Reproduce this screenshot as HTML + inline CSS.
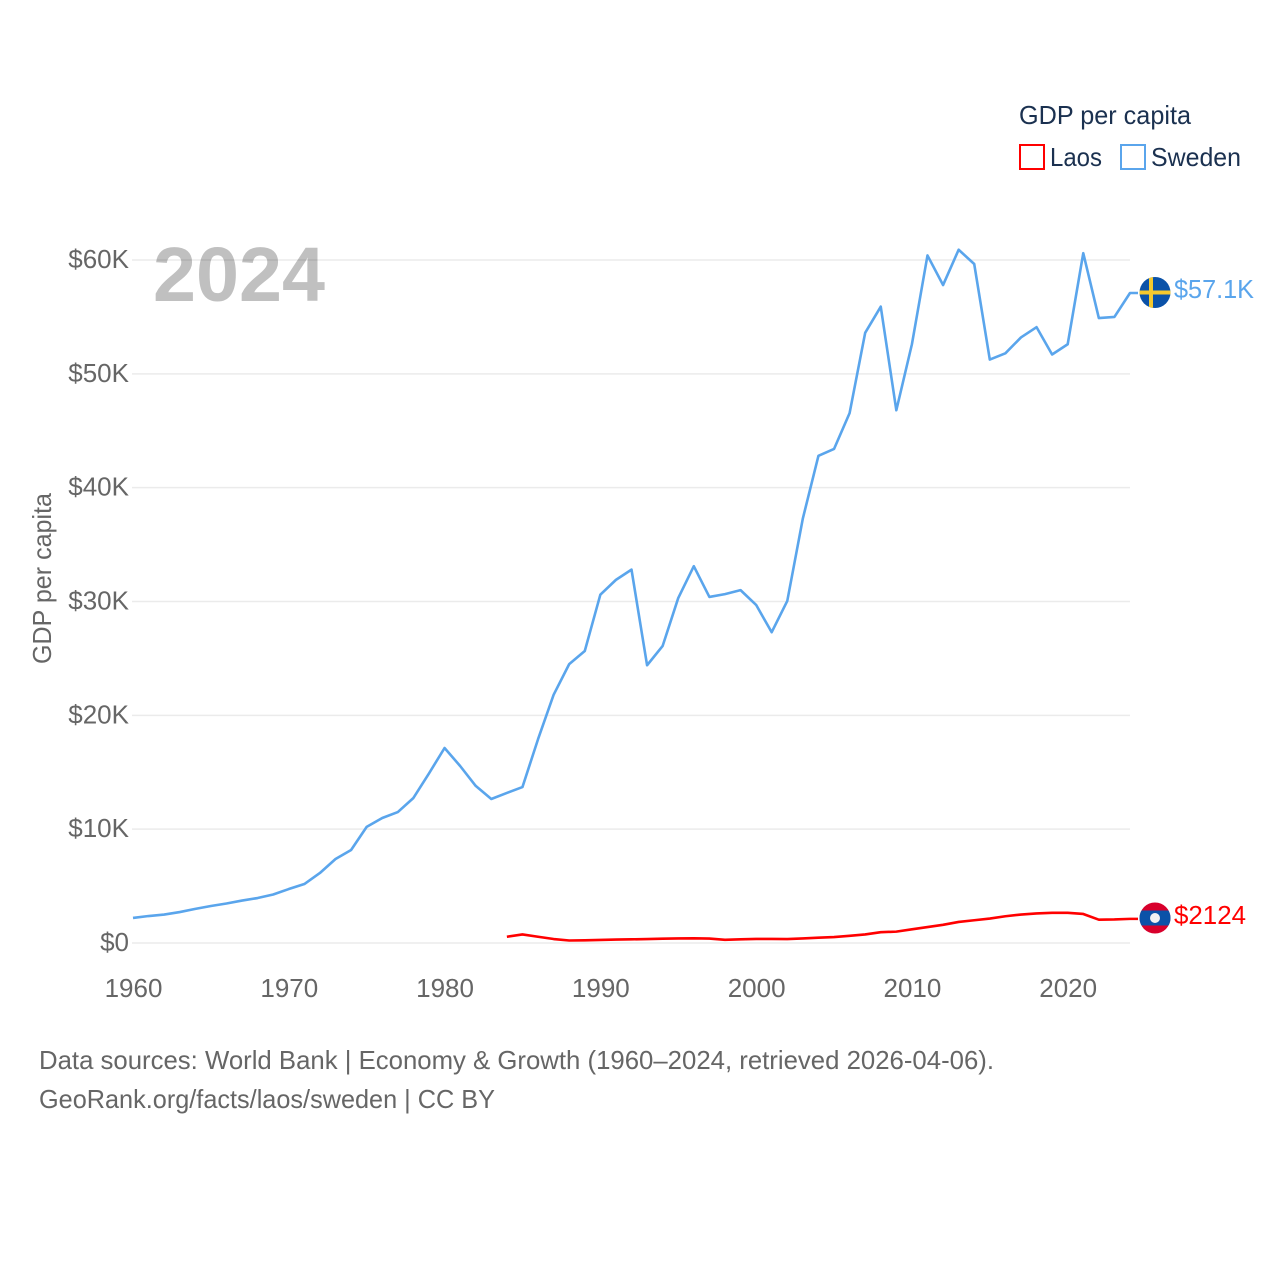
<!DOCTYPE html>
<html lang="en">
<head>
<meta charset="utf-8">
<title>GDP per capita: Laos and Sweden</title>
<style>
html,body{margin:0;padding:0;background:#fff;width:1280px;height:1280px;overflow:hidden}
svg{display:block;font-family:"Liberation Sans",sans-serif}
</style>
</head>
<body>
<svg id="chart" width="1280" height="1280" viewBox="0 0 1280 1280" xmlns="http://www.w3.org/2000/svg">
  <defs>
    <clipPath id="flag-clip-se"><circle cx="1155" cy="292.5" r="15.5"/></clipPath>
    <clipPath id="flag-clip-la"><circle cx="1155" cy="918" r="15.5"/></clipPath>
  </defs>
  <rect x="0" y="0" width="1280" height="1280" fill="#fff"/>

  <text x="153" y="301" font-size="77" font-weight="700" fill="#c0c0c0" textLength="172" lengthAdjust="spacingAndGlyphs">2024</text>

  <g id="grid"></g>
  <g id="y-ticks"></g>
  <g id="x-ticks"></g>

  <text transform="translate(51,664) rotate(-90)" font-size="26" fill="#666" textLength="171" lengthAdjust="spacingAndGlyphs">GDP per capita</text>

  <g id="series"></g>

  <g>
    <text x="1019" y="124" font-size="26" fill="#1b3150" textLength="172" lengthAdjust="spacingAndGlyphs">GDP per capita</text>
    <rect x="1020" y="145" width="24" height="24" fill="#fff" stroke="#ff0000" stroke-width="2"/>
    <text x="1050" y="166" font-size="26" fill="#1b3150" textLength="52" lengthAdjust="spacingAndGlyphs">Laos</text>
    <rect x="1121" y="145" width="24" height="24" fill="#fff" stroke="#5aa5ec" stroke-width="2"/>
    <text x="1151" y="166" font-size="26" fill="#1b3150" textLength="90" lengthAdjust="spacingAndGlyphs">Sweden</text>
  </g>

  <g clip-path="url(#flag-clip-se)">
    <rect x="1139" y="276" width="32" height="33" fill="#0b52a8"/>
    <rect x="1139" y="290.5" width="32" height="4" fill="#f5c92e"/>
    <rect x="1149" y="276" width="4" height="33" fill="#f5c92e"/>
  </g>
  <text x="1174" y="298" font-size="26" fill="#5aa5ec" textLength="80" lengthAdjust="spacingAndGlyphs">$57.1K</text>

  <g clip-path="url(#flag-clip-la)">
    <rect x="1139" y="902" width="32" height="33" fill="#d8002c"/>
    <rect x="1139" y="910.5" width="32" height="15" fill="#0b52a8"/>
    <circle cx="1155" cy="918" r="5" fill="#f2f2f2"/>
  </g>
  <text x="1174" y="924" font-size="26" fill="#ff0000" textLength="72" lengthAdjust="spacingAndGlyphs">$2124</text>

  <text x="39" y="1069" font-size="26" fill="#666" textLength="955" lengthAdjust="spacingAndGlyphs">Data sources: World Bank | Economy &amp; Growth (1960–2024, retrieved 2026-04-06).</text>
  <text x="39" y="1108" font-size="26" fill="#666" textLength="456" lengthAdjust="spacingAndGlyphs">GeoRank.org/facts/laos/sweden | CC BY</text>
</svg>
<script>
const swedenStartYear = 1960;
const swedenValues = [2.2,2.37,2.5,2.72,3.0,3.25,3.47,3.73,3.95,4.26,4.74,5.18,6.15,7.38,8.17,10.2,10.98,11.5,12.74,14.9,17.13,15.55,13.8,12.65,13.18,13.7,17.9,21.8,24.5,25.65,30.6,31.9,32.8,24.4,26.1,30.3,33.1,30.4,30.65,31.0,29.7,27.3,30.05,37.3,42.8,43.4,46.55,53.6,55.9,46.8,52.6,60.4,57.8,60.9,59.65,51.25,51.8,53.2,54.1,51.7,52.6,60.6,54.9,55.0,57.1];
const laosStartYear = 1984;
const laosValues = [0.55,0.75,0.55,0.35,0.22,0.24,0.27,0.3,0.32,0.35,0.38,0.4,0.41,0.39,0.28,0.32,0.36,0.36,0.35,0.4,0.47,0.52,0.63,0.75,0.95,1.0,1.2,1.4,1.6,1.85,2.0,2.15,2.35,2.5,2.6,2.65,2.65,2.55,2.05,2.07,2.12];
const yTickValues = [0,10,20,30,40,50,60];
const yTickLabels = ["$0","$10K","$20K","$30K","$40K","$50K","$60K"];
const xTickValues = [1960,1970,1980,1990,2000,2010,2020];
const xTickLabels = ["1960","1970","1980","1990","2000","2010","2020"];

const NS = "http://www.w3.org/2000/svg";
const plotLeft = 133, plotRight = 1130, plotBottom = 943, plotTop = 260;
function xScale(year){ return plotLeft + (year - 1960) * (plotRight - plotLeft) / (2024 - 1960); }
function yScale(v){ return plotBottom - v * (plotBottom - plotTop) / 60; }

const gridGroup = document.getElementById("grid");
const yGroup = document.getElementById("y-ticks");
const xGroup = document.getElementById("x-ticks");
const seriesGroup = document.getElementById("series");

yTickValues.forEach(function(v, i){
  const line = document.createElementNS(NS, "line");
  
  
  line.setAttribute("x1", plotLeft - 1);
  line.setAttribute("x2", plotRight);
  line.setAttribute("y1", yScale(v));
  line.setAttribute("y2", yScale(v));
  line.setAttribute("stroke", "#000");
  line.setAttribute("stroke-opacity", "0.08");
  line.setAttribute("stroke-width", "1.5");
  gridGroup.appendChild(line);

  const label = document.createElementNS(NS, "text");
  
  
  label.setAttribute("x", 129);
  label.setAttribute("y", yScale(v) + 8);
  label.setAttribute("text-anchor", "end");
  label.setAttribute("font-size", "26");
  label.setAttribute("fill", "#666");
  label.textContent = yTickLabels[i];
  yGroup.appendChild(label);
});

xTickValues.forEach(function(year, i){
  const label = document.createElementNS(NS, "text");
  
  
  label.setAttribute("x", xScale(year) + 0.5);
  label.setAttribute("y", 997);
  label.setAttribute("text-anchor", "middle");
  label.setAttribute("font-size", "26");
  label.setAttribute("fill", "#666");
  label.textContent = xTickLabels[i];
  xGroup.appendChild(label);
});

function seriesPoints(startYear, values){
  return values.map(function(v, i){
    return xScale(startYear + i).toFixed(2) + "," + yScale(v).toFixed(2);
  });
}

const laosLine = document.createElementNS(NS, "polyline");


laosLine.setAttribute("points", seriesPoints(laosStartYear, laosValues).join(" ") + " " + (plotRight + 8) + "," + yScale(laosValues[laosValues.length - 1]).toFixed(2));
laosLine.setAttribute("fill", "none");
laosLine.setAttribute("stroke", "#ff0000");
laosLine.setAttribute("stroke-width", "2.6");
laosLine.setAttribute("stroke-linejoin", "round");
seriesGroup.appendChild(laosLine);

const swedenLine = document.createElementNS(NS, "polyline");


swedenLine.setAttribute("points", seriesPoints(swedenStartYear, swedenValues).join(" ") + " " + (plotRight + 8) + "," + yScale(swedenValues[swedenValues.length - 1]).toFixed(2));
swedenLine.setAttribute("fill", "none");
swedenLine.setAttribute("stroke", "#5aa5ec");
swedenLine.setAttribute("stroke-width", "2.6");
swedenLine.setAttribute("stroke-linejoin", "round");
seriesGroup.appendChild(swedenLine);
</script>
</body>
</html>
